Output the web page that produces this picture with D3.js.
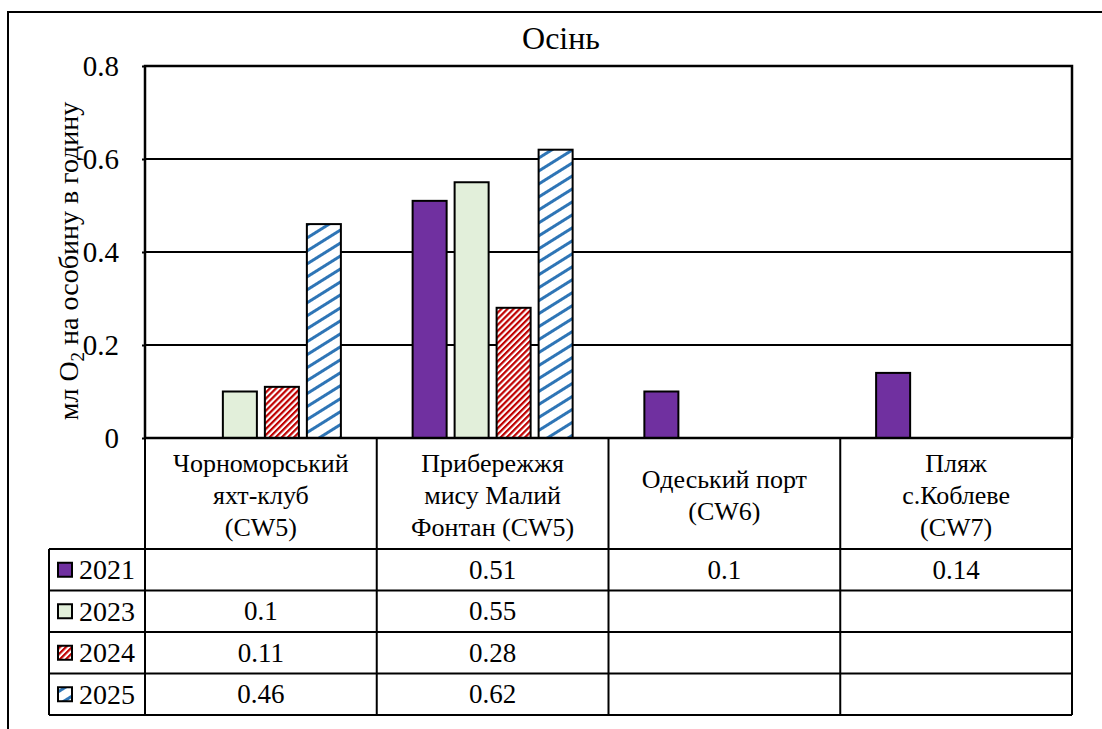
<!DOCTYPE html>
<html><head><meta charset="utf-8">
<script src="https://cdn.jsdelivr.net/npm/d3@7"></script>
</head>
<body style="margin:0">
<svg id="chart" width="1102" height="729" font-family="Liberation Serif"></svg>
<script>
const title = "Осінь";
const yTitleParts = ["мл O", "2", " на особину в годину"];
const categories = [
  ["Чорноморський","яхт-клуб","(CW5)"],
  ["Прибережжя","мису Малий","Фонтан (CW5)"],
  ["Одеський порт","(CW6)"],
  ["Пляж","с.Коблеве","(CW7)"]
];
const years = ["2021","2023","2024","2025"];
const v2021 = [null, 0.51, 0.1, 0.14];
const v2023 = [0.1, 0.55, null, null];
const v2024 = [0.11, 0.28, null, null];
const v2025 = [0.46, 0.62, null, null];
const yTicks = [0, 0.2, 0.4, 0.6, 0.8];
const yTickLabels = ["0","0.2","0.4","0.6","0.8"];

const series = [v2021, v2023, v2024, v2025];
const fills = ["#7030A0", "#E2EFDA", "url(#pRed)", "url(#pBlue)"];
const FONT = "Liberation Serif";

const svg = d3.select("#chart");
const defs = svg.append("defs");
const pr = defs.append("pattern").attr("id","pRed").attr("patternUnits","userSpaceOnUse")
  .attr("width",4.3).attr("height",4.3).attr("patternTransform","rotate(45)");
pr.append("rect").attr("width",4.3).attr("height",4.3).attr("fill","#fff");
pr.append("rect").attr("width",2.2).attr("height",4.3).attr("fill","#C00000");
const pb = defs.append("pattern").attr("id","pBlue").attr("patternUnits","userSpaceOnUse")
  .attr("width",11).attr("height",11).attr("patternTransform","rotate(58)");
pb.append("rect").attr("width",11).attr("height",11).attr("fill","#fff");
pb.append("rect").attr("width",3).attr("height",11).attr("fill","#2E75B6");

const L = 145, R = 1072, T = 66, B = 438;
const x0 = d3.scaleBand().domain(d3.range(categories.length)).range([L, R]).padding(0);
const x1 = d3.scaleBand().domain(years).range([0, x0.bandwidth()]).paddingInner(0.19).paddingOuter(0.854);
const y = d3.scaleLinear().domain([0, 0.8]).range([B, T]);

function txt(sel, size){
  return sel.append("text").attr("font-size", size).attr("font-family", FONT)
    .style("font-family", FONT).style("font-size", size + "px").attr("fill","#000");
}

svg.append("rect").attr("x",8).attr("y",12).attr("width",1200).attr("height",800)
  .attr("fill","none").attr("stroke","#000").attr("stroke-width",2);

txt(svg, 32).attr("x",561).attr("y",49).attr("text-anchor","middle").text(title);

svg.append("g").selectAll("line").data(yTicks.filter(d=>d>0)).join("line")
  .attr("x1",L).attr("x2",R).attr("y1",d=>y(d)).attr("y2",d=>y(d))
  .attr("stroke","#000").attr("stroke-width",2);

const yAxis = d3.axisLeft(y).tickValues(yTicks).tickFormat("").tickSize(3);
const gy = svg.append("g").attr("transform",`translate(${L},0)`).call(yAxis);
gy.select(".domain").remove();
gy.selectAll(".tick line").attr("stroke","#000").attr("stroke-width",2);
yTicks.forEach((t,i)=>{
  txt(svg, 29).attr("x",L-26).attr("y",y(t)+9.5).attr("text-anchor","end").text(yTickLabels[i]);
});

const yt = txt(svg, 28).attr("transform","translate(78,261) rotate(-90)").attr("text-anchor","middle");
yt.append("tspan").text(yTitleParts[0]);
yt.append("tspan").attr("font-size",19).style("font-size","19px").attr("dy",6).text(yTitleParts[1]);
yt.append("tspan").attr("dy",-6).text(yTitleParts[2]);

years.forEach((yr, si) => {
  svg.append("g").selectAll("rect").data(series[si].map((v,i)=>({v,i})).filter(d=>d.v!=null)).join("rect")
    .attr("x", d => x0(d.i) + x1(yr))
    .attr("width", x1.bandwidth())
    .attr("y", d => y(d.v))
    .attr("height", d => y(0) - y(d.v))
    .attr("fill", fills[si]).attr("stroke","#000").attr("stroke-width",2);
});

svg.append("path").attr("d",`M${L},${B}V${T}H${R}V${B}`).attr("fill","none").attr("stroke","#000").attr("stroke-width",2.5);

const rowTop = 549, rowH = 41.5, legL = 49;
const tableBottom = rowTop + rowH*years.length;
const tg = svg.append("g").attr("stroke","#000").attr("stroke-width",2);
tg.append("line").attr("x1",L).attr("x2",R).attr("y1",B).attr("y2",B).attr("stroke-width",2.5);
d3.range(years.length+1).forEach(k=>{
  tg.append("line").attr("x1",legL).attr("x2",R).attr("y1",rowTop+k*rowH).attr("y2",rowTop+k*rowH);
});
tg.append("line").attr("x1",legL).attr("x2",legL).attr("y1",rowTop).attr("y2",tableBottom);
const colEdges = d3.range(categories.length).map(i=>x0(i)).concat([R]);
colEdges.forEach(xx=>{
  tg.append("line").attr("x1",xx).attr("x2",xx).attr("y1",B).attr("y2",tableBottom);
});

categories.forEach((lines,i)=>{
  const cx = x0(i) + x0.bandwidth()/2;
  const lh = 32, midBase = 504;
  lines.forEach((t,k)=>{
    txt(svg, 26).attr("x",cx).attr("y",midBase + (k - (lines.length-1)/2)*lh)
      .attr("text-anchor","middle").text(t);
  });
});

years.forEach((yr, si)=>{
  const cy = rowTop + si*rowH + rowH/2;
  svg.append("rect").attr("x",58).attr("y",cy-7).attr("width",14).attr("height",14)
    .attr("fill",fills[si]).attr("stroke","#000").attr("stroke-width",2);
  txt(svg, 28).attr("x",79).attr("y",cy+9.5).text(yr);
  series[si].forEach((v,i)=>{
    if (v==null) return;
    txt(svg, 27).attr("x",x0(i)+x0.bandwidth()/2).attr("y",cy+9)
      .attr("text-anchor","middle").text(String(v));
  });
});
</script>
</body></html>
